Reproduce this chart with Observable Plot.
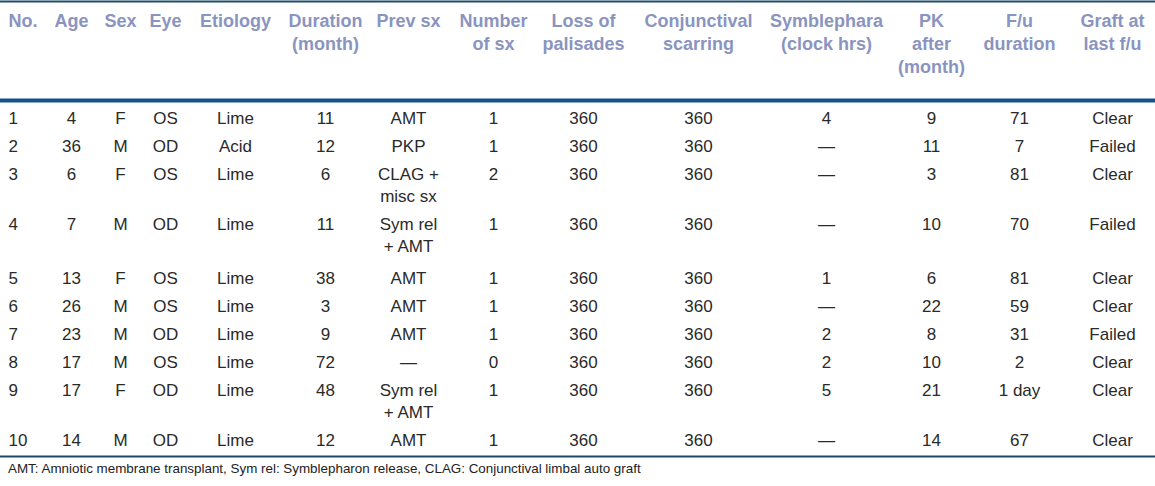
<!DOCTYPE html>
<html>
<head>
<meta charset="utf-8">
<script src="https://cdn.jsdelivr.net/npm/d3@7"></script>
<script src="https://cdn.jsdelivr.net/npm/@observablehq/plot@0.6"></script>
<style>
  html, body { margin: 0; padding: 0; background: #fff; }
  #chart svg { display: block; }
  #note { font-family: "Liberation Sans", Arial, sans-serif; font-size: 13.4px; color: #222; line-height: 20px; padding-left: 8px; padding-top: 1px; white-space: nowrap; }
</style>
</head>
<body>
<div id="chart"></div>
<div id="note"></div>
<script>
// ---- data ----
const headers = ["No.", "Age", "Sex", "Eye", "Etiology", "Duration\n(month)", "Prev sx", "Number\nof sx",
  "Loss of\npalisades", "Conjunctival\nscarring", "Symblephara\n(clock hrs)", "PK\nafter\n(month)", "F/u\nduration", "Graft at\nlast f/u"];
const no = ["1", "2", "3", "4", "5", "6", "7", "8", "9", "10"];
const age = [4, 36, 6, 7, 13, 26, 23, 17, 17, 14];
const sex = ["F", "M", "F", "M", "F", "M", "M", "M", "F", "M"];
const eye = ["OS", "OD", "OS", "OD", "OS", "OS", "OD", "OS", "OD", "OD"];
const etiology = ["Lime", "Acid", "Lime", "Lime", "Lime", "Lime", "Lime", "Lime", "Lime", "Lime"];
const duration = [11, 12, 6, 11, 38, 3, 9, 72, 48, 12];
const prevSx = ["AMT", "PKP", "CLAG +\nmisc sx", "Sym rel\n+ AMT", "AMT", "AMT", "AMT", "—", "Sym rel\n+ AMT", "AMT"];
const numSx = [1, 1, 2, 1, 1, 1, 1, 0, 1, 1];
const lossPalisades = [360, 360, 360, 360, 360, 360, 360, 360, 360, 360];
const conjScarring = [360, 360, 360, 360, 360, 360, 360, 360, 360, 360];
const symblephara = ["4", "—", "—", "—", "1", "—", "2", "2", "5", "—"];
const pkAfter = [9, 11, 3, 10, 6, 22, 8, 10, 21, 14];
const fuDuration = ["71", "7", "81", "70", "81", "59", "31", "2", "1 day", "67"];
const graft = ["Clear", "Failed", "Clear", "Failed", "Clear", "Clear", "Failed", "Clear", "Clear", "Clear"];
const footnote = "AMT: Amniotic membrane transplant, Sym rel: Symblepharon release, CLAG: Conjunctival limbal auto graft";

// ---- table building ----
const columns = [no, age, sex, eye, etiology, duration, prevSx, numSx, lossPalisades, conjScarring, symblephara, pkAfter, fuDuration, graft];
const cells = [];
columns.forEach((col, c) => col.forEach((v, r) => cells.push({col: c, row: r, text: String(v)})));
const headCells = headers.map((h, c) => ({col: c, row: -1, text: h}));

// layout scales (column index -> x, row index -> y)
const colX = [8, 71, 120, 165, 235, 325, 408, 493, 583, 698, 826, 931, 1019, 1112];
const rowDomain = [-2, -1, -0.5, 0, 1, 2, 3, 4, 5, 6, 7, 8, 9, 9.5];
const rowRange = [1, 20, 100, 118, 146, 174, 224, 278, 306, 334, 362, 390, 440, 456];

const font = '"Liberation Sans", Arial, sans-serif';
const chart = Plot.plot({
  width: 1155,
  height: 458,
  margin: 0,
  x: {type: "linear", domain: d3.range(colX.length), range: colX, axis: null},
  y: {type: "linear", domain: rowDomain, range: rowRange, axis: null},
  style: {fontFamily: font, background: "#fff"},
  marks: [
    Plot.ruleY([-2], {stroke: "#1d4a6c", strokeWidth: 2}),
    Plot.ruleY([-0.5], {stroke: "#17508f", strokeWidth: 4}),
    Plot.ruleY([9.5], {stroke: "#1d4a6c", strokeWidth: 2}),
    // header
    Plot.text(headCells.filter(d => d.col === 0), {x: "col", y: "row", text: "text", textAnchor: "start", lineAnchor: "top", dy: -10,
      fontSize: 18, fontWeight: "bold", fill: "#8a94c0", lineHeight: 1.28}),
    Plot.text(headCells.filter(d => d.col > 0), {x: "col", y: "row", text: "text", textAnchor: "middle", lineAnchor: "top", dy: -10,
      fontSize: 18, fontWeight: "bold", fill: "#8a94c0", lineHeight: 1.28}),
    // body
    Plot.text(cells.filter(d => d.col === 0), {x: "col", y: "row", text: "text", textAnchor: "start", lineAnchor: "top", dy: -10,
      fontSize: 17, fill: "#2a2a2a", lineHeight: 1.3}),
    Plot.text(cells.filter(d => d.col > 0), {x: "col", y: "row", text: "text", textAnchor: "middle", lineAnchor: "top", dy: -10,
      fontSize: 17, fill: "#2a2a2a", lineHeight: 1.3})
  ]
});
document.getElementById("chart").append(chart);
document.getElementById("note").textContent = footnote;
</script>
</body>
</html>
